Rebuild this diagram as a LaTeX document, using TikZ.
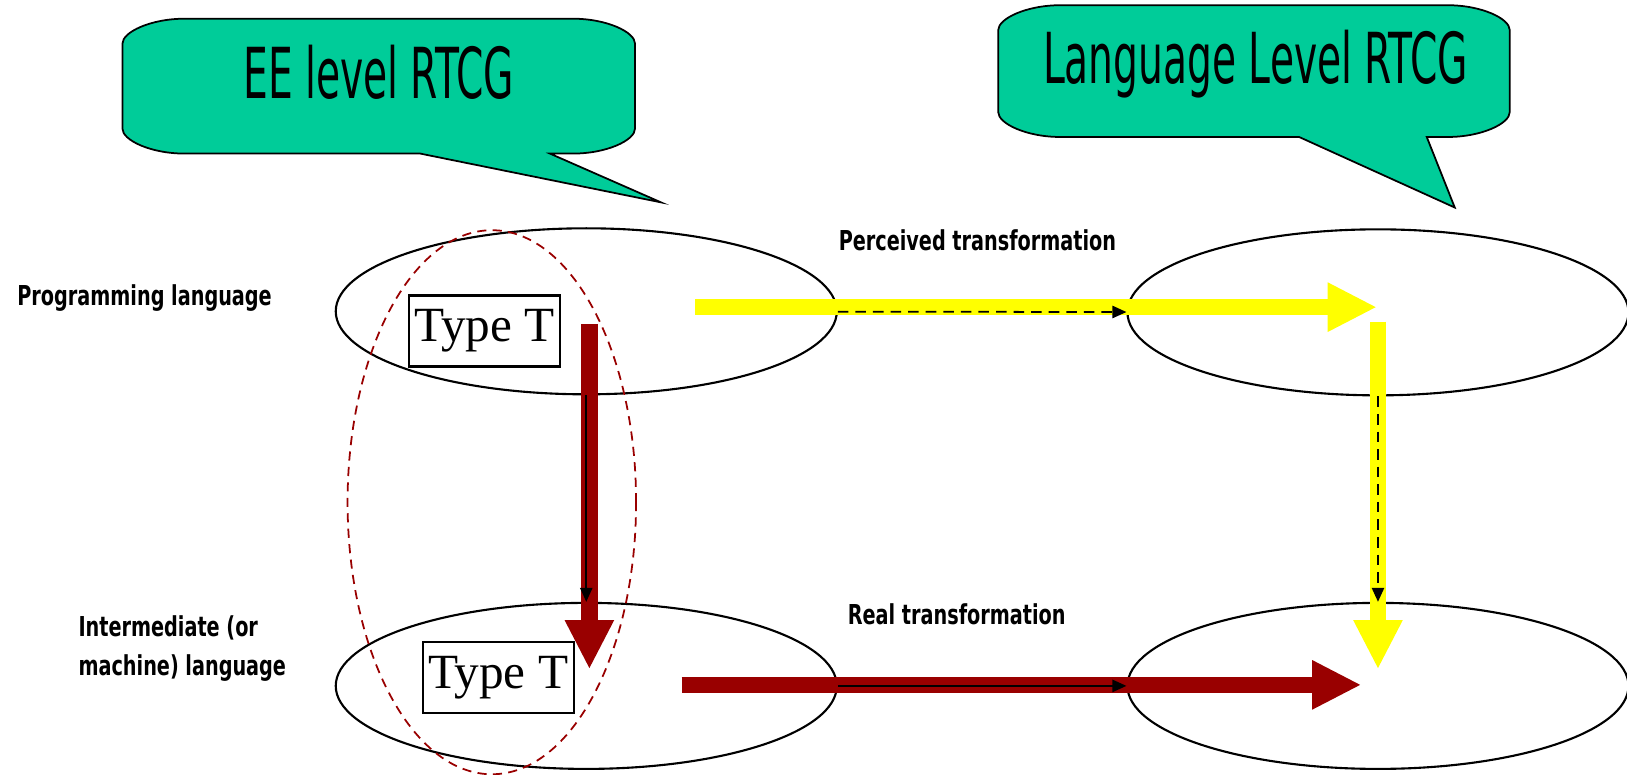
\documentclass[tikz,border=0pt]{standalone}
\usepackage{fontspec}
\setmainfont{Liberation Serif}
\newfontfamily\agency[FakeStretch=0.62]{DejaVu Sans Condensed}
\newfontfamily\agencybold[FakeStretch=0.78]{DejaVu Sans Condensed}
\usetikzlibrary{arrows.meta,shapes.geometric}
\definecolor{bubble}{HTML}{00CC99}
\definecolor{darkred}{HTML}{990000}
\definecolor{brightyellow}{HTML}{FFFF00}
\tikzstyle{level}=[ellipse,draw,line width=0.6pt,minimum width=5.01cm,minimum height=1.66cm,inner sep=0pt]
\tikzstyle{typebox}=[draw,line width=0.6pt,font=\fontsize{14}{16}\selectfont,inner sep=0pt,minimum width=1.51cm,minimum height=0.71cm]
\tikzstyle{callout}=[draw,fill=bubble,line width=0.5pt]
\tikzstyle{title}=[font=\agency\fontsize{20}{23}\selectfont,anchor=base,inner sep=0pt]
\tikzstyle{tag}=[font=\agencybold\bfseries\fontsize{7.8}{11}\selectfont,inner sep=0pt]
\tikzstyle{bigarrow}=[line width=4.7pt,-{Triangle[length=14pt,width=13pt]}]
\tikzstyle{edge}=[draw,line width=0.5pt,-{Triangle[length=4pt,width=3.5pt]}]

\begin{document}
\begin{tikzpicture}[x=0.010376cm,y=-0.010376cm]
	\useasboundingbox (0,0) rectangle (1568,746);

	% First we draw the two speech bubbles
	\draw[callout] (178,18) -- (552,18) .. controls (585,18) and (612,31) .. (612,42) -- (612,124)
		.. controls (612,135) and (585,148) .. (552,148) -- (530,148) -- (637,195) -- (405,148) -- (178,148)
		.. controls (145,148) and (118,135) .. (118,124) -- (118,42) .. controls (118,31) and (145,18) .. (178,18) -- cycle;
	\draw[callout] (1022,5) -- (1395,5) .. controls (1428,5) and (1455,18) .. (1455,29) -- (1455,108)
		.. controls (1455,119) and (1428,132) .. (1395,132) -- (1375,132) -- (1402,200) -- (1252,132) -- (1022,132)
		.. controls (989,132) and (962,119) .. (962,108) -- (962,29) .. controls (962,18) and (989,5) .. (1022,5) -- cycle;
	\node[title] (ee) at (365,95) {EE level RTCG};
	\node[title] (lang) at (1210,80) {Language Level RTCG};

	% Then the four language levels
	\foreach \pos/\name in {{(565,300)/pl}, {(1328,301)/pr}, {(565,661)/il}, {(1328,661)/ir}}
		\node[level] (\name) at \pos {};
	\node[ellipse,draw=darkred,dashed,line width=0.5pt,dash pattern=on 2.6pt off 1.8pt,
		minimum width=2.885cm,minimum height=5.44cm] (scope) at (474,484) {};

	\node[typebox] (t1) at (467,319) {Type T};
	\node[typebox] (t2) at (480,653) {Type T};

	% Wide arrows
	\coordinate (ys) at (670,296);  \coordinate (ye) at (1327,296);
	\coordinate (yt) at (1328,310); \coordinate (yb) at (1328,645);
	\coordinate (rt) at (568,312);  \coordinate (rb) at (568,645);
	\coordinate (rs) at (657,660);  \coordinate (re) at (1312,660);
	\draw[bigarrow,brightyellow] (ys) -- (ye);
	\draw[bigarrow,brightyellow] (yt) -- (yb);
	\draw[bigarrow,darkred] (rt) -- (rb);
	\draw[bigarrow,darkred] (rs) -- (re);

	% Connect the levels
	\foreach \source/\dest in {pl/pr, pr/ir}
		\path[edge,dash pattern=on 3pt off 2pt] (\source) -- (\dest);
	\foreach \source/\dest in {pl/il, il/ir}
		\path[edge] (\source) -- (\dest);

	\node[tag,anchor=west] (plab) at (16,287) {Programming language};
	\node[tag,anchor=west,align=left] (ilab) at (75,625) {Intermediate (or\\machine) language};
	\node[tag] (perc) at (942,232) {Perceived transformation};
	\node[tag] (real) at (922,592) {Real transformation};
\end{tikzpicture}
\end{document}
